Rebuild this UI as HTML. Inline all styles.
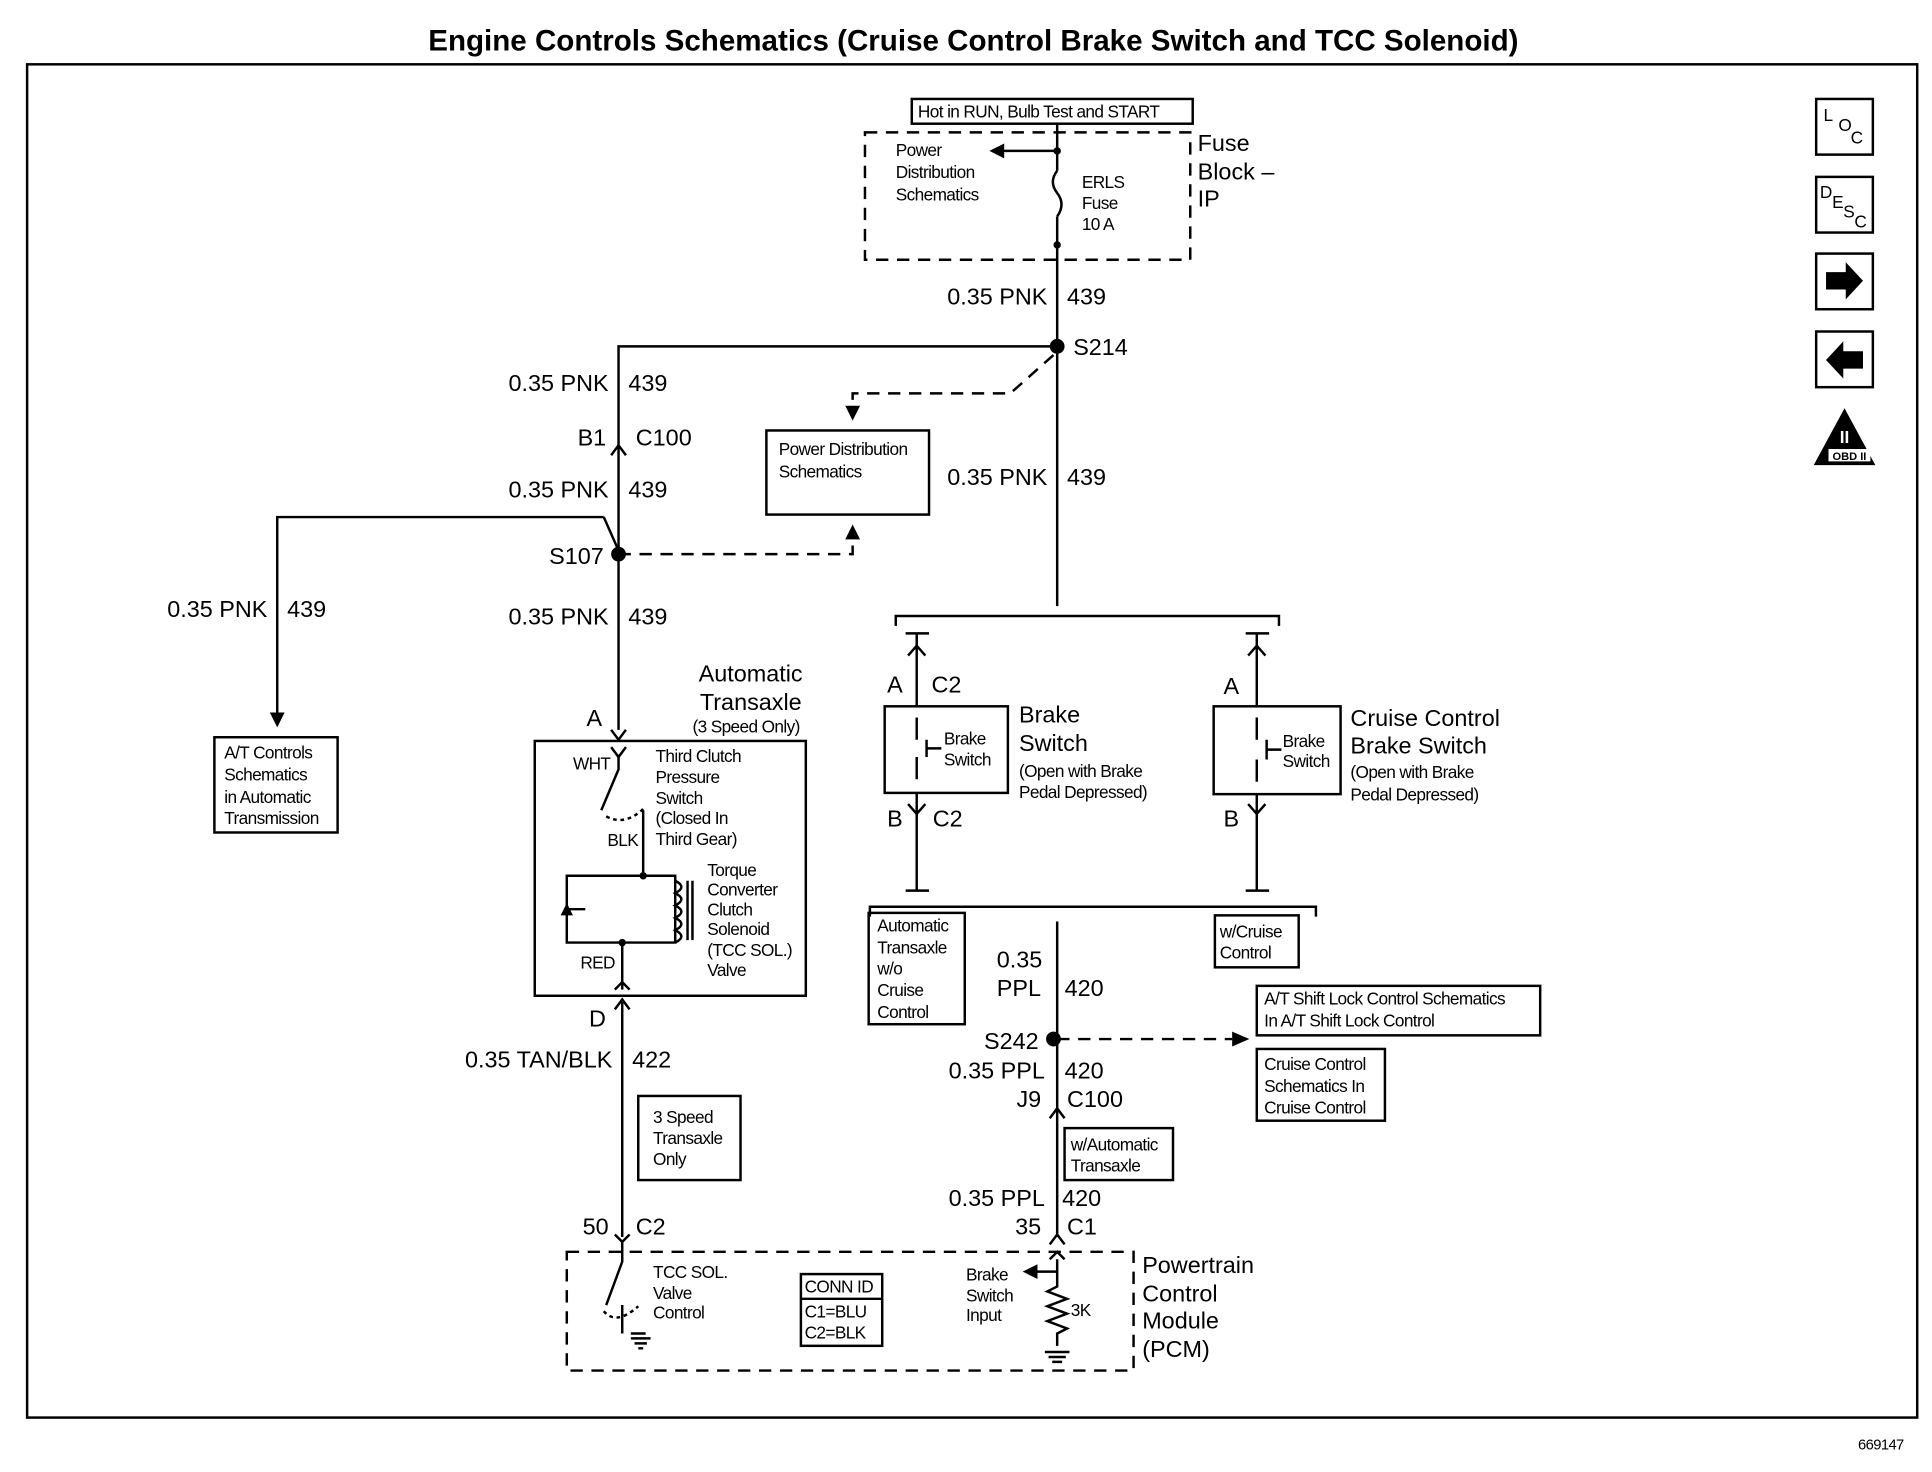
<!DOCTYPE html>
<html><head><meta charset="utf-8"><style>
html,body{margin:0;padding:0;background:#fff;}
svg{display:block;}
text{font-family:"Liberation Sans",Arial,sans-serif;fill:#000;}
.s{font-size:14px;letter-spacing:-0.5px}
.m{font-size:19px}
.l{font-size:19px}
</style></head><body>
<svg width="1932" height="1472" viewBox="0 0 1568 1190" preserveAspectRatio="none" xmlns="http://www.w3.org/2000/svg">
<rect width="1568" height="1190" fill="#fff"/>
<g stroke="#000" stroke-width="2" fill="none">
<rect x="22" y="52" width="1534" height="1094"/>
<rect x="1474" y="80" width="46" height="45"/>
<rect x="1474" y="143" width="46" height="45"/>
<rect x="1474" y="205" width="46" height="45"/>
<rect x="1474" y="268" width="46" height="45"/>
<rect x="740" y="80" width="228" height="20"/>
<rect x="702" y="107" width="264" height="103" stroke-dasharray="10,7"/>
<path d="M858 100 V138 M858 175 V490"/>
<path d="M858 138 q-7 9 0 18 q7 9 0 19" />
<path d="M858 122 H812"/>
<path d="M858 280 H502 V590"/>
<path d="M855 287 L820 318 H692 V330" stroke-dasharray="10,7"/>
<rect x="622" y="348" width="132" height="68"/>
<path d="M502 448 H692 V432" stroke-dasharray="10,7"/>
<path d="M490 418 H225 V578"/>
<path d="M490 418 L502 445"/>
<rect x="174" y="596" width="100" height="77"/>
<path d="M496 368 L502 360 L508 368"/>
<rect x="434" y="599" width="220" height="206"/>
<path d="M496 590 L502 598 L508 590" />
<path d="M496 604 L502 612 L508 604"/>
<path d="M502 612 V622 L488 655"/>
<path d="M522 655 V708 M460 708 H548 V762 H460 Z"/>
<path d="M460 735 H475"/>
<path d="M548 712 q10 5 0 10 q10 5 0 10 q10 5 0 10 q10 5 0 10 q10 5 0 10"/>
<path d="M558 712 V760 M562 712 V760"/>
<path d="M505 762 V800"/>
<path d="M499 800 L505 794 L511 800"/>
<path d="M505 810 V1000 M499 816 L505 808 L511 816"/>
<path d="M492 660 q15 8 30 -6" stroke-dasharray="3,3"/>
<rect x="518" y="886" width="83" height="68"/>
<rect x="460" y="1012" width="460" height="96" stroke-dasharray="10,7"/>
<path d="M499 998 L505 1004 L511 998 M505 1004 V1020 L492 1055"/>
<path d="M505 1055 V1078 M512 1078 H524"/>
<path d="M490 1060 q10 12 28 -4" stroke-dasharray="3,3"/>
<rect x="650" y="1030" width="66" height="58"/>
<path d="M650 1050 H716"/>
<path d="M727 506 V498 H1038 V506"/>
<path d="M744 512 V571 M744 641 V720 M735 720 H754 M735 512 H754"/>
<path d="M737 530 L744 522 L751 530"/>
<path d="M737 650 L744 658 L751 650"/>
<rect x="718" y="571" width="100" height="70"/>
<path d="M744 580 V598 M744 612 V630 M752 598 V612 M752 605 H764"/>
<path d="M1020 512 V571 M1020 642 V720 M1011 720 H1030 M1011 512 H1030"/>
<path d="M1013 530 L1020 522 L1027 530"/>
<path d="M1013 650 L1020 658 L1027 650"/>
<rect x="985" y="571" width="103" height="71"/>
<path d="M1020 580 V598 M1020 614 V632 M1028 598 V614 M1028 606 H1040"/>
<path d="M706 741 V733 H1068 V741"/>
<path d="M858 745 V1000"/>
<rect x="705" y="738" width="78" height="90"/>
<rect x="986" y="740" width="68" height="42"/>
<path d="M858 840 H1000" stroke-dasharray="10,7"/>
<rect x="1020" y="797" width="230" height="40"/>
<rect x="1020" y="848" width="104" height="58"/>
<path d="M852 904 L858 896 L864 904"/>
<rect x="864" y="912" width="88" height="42"/>
<path d="M852 1006 L858 998 L864 1006 M852 1018 L858 1012 L864 1018"/>
<path d="M858 1018 V1040 l-8 4 l16 6 l-16 6 l16 6 l-16 6 l16 6 l-8 4 V1088"/>
<path d="M858 1028 H840"/>
<path d="M848 1093 H868 M851 1097 H865 M854 1101 H862"/>
<path d="M512 1082 H528 M515 1086 H525 M518 1090 H522"/>
</g>
<g fill="#000">
<circle cx="858" cy="280" r="6"/>
<circle cx="502" cy="448" r="6"/>
<circle cx="855" cy="840" r="6"/>
<circle cx="858" cy="122" r="3"/><circle cx="858" cy="198" r="3"/>
<circle cx="522" cy="708" r="3"/><circle cx="505" cy="762" r="3"/>
<path d="M803 122 L815 116 L815 128 Z"/>
<path d="M686 328 L698 328 L692 340 Z"/>
<path d="M686 436 L698 436 L692 424 Z"/>
<path d="M219 576 L231 576 L225 588 Z"/>
<path d="M1000 834 L1000 846 L1014 840 Z"/>
<path d="M830 1028 L842 1022 L842 1034 Z"/>
<path d="M455 740 L465 740 L460 730 Z"/>
<path d="M1482 220 H1498 V212 L1512 227 L1498 242 V234 H1482 Z"/>
<path d="M1512 284 H1496 V276 L1482 291 L1496 306 V298 H1512 Z"/>
<path d="M1497 330 L1522 376 L1472 376 Z"/>
</g>
<rect x="1484" y="363" width="34" height="10" fill="#fff"/>
<text x="790" y="41" text-anchor="middle" style="font-size:24px;font-weight:bold">Engine Controls Schematics (Cruise Control Brake Switch and TCC Solenoid)</text>
<text x="1545" y="1172" class="s" text-anchor="end" style="font-size:12px">669147</text>
<text x="1480" y="98" class="s">L</text><text x="1492" y="106" class="s">O</text><text x="1502" y="116" class="s">C</text>
<text x="1477" y="160" class="s">D</text><text x="1487" y="168" class="s">E</text><text x="1496" y="176" class="s">S</text><text x="1505" y="184" class="s">C</text>
<text x="1497" y="358" text-anchor="middle" style="font-size:14px;font-weight:bold;fill:#fff">II</text>
<text x="1501" y="372" text-anchor="middle" style="font-size:9px;font-weight:bold">OBD II</text>
<text x="745" y="95" class="s">Hot in RUN, Bulb Test and START</text>
<text x="727" y="126" class="s">Power</text><text x="727" y="144" class="s">Distribution</text><text x="727" y="162" class="s">Schematics</text>
<text x="878" y="152" class="s">ERLS</text><text x="878" y="169" class="s">Fuse</text><text x="878" y="186" class="s">10 A</text>
<text x="972" y="122" class="l">Fuse</text><text x="972" y="145" class="l">Block –</text><text x="972" y="167" class="l">IP</text>
<text x="850" y="246" class="m" text-anchor="end">0.35 PNK</text><text x="866" y="246" class="m">439</text>
<text x="871" y="287" class="m">S214</text>
<text x="494" y="316" class="m" text-anchor="end">0.35 PNK</text><text x="510" y="316" class="m">439</text>
<text x="492" y="360" class="m" text-anchor="end">B1</text><text x="516" y="360" class="m">C100</text>
<text x="494" y="402" class="m" text-anchor="end">0.35 PNK</text><text x="510" y="402" class="m">439</text>
<text x="490" y="456" class="m" text-anchor="end">S107</text>
<text x="217" y="499" class="m" text-anchor="end">0.35 PNK</text><text x="233" y="499" class="m">439</text>
<text x="494" y="505" class="m" text-anchor="end">0.35 PNK</text><text x="510" y="505" class="m">439</text>
<text x="632" y="368" class="s">Power Distribution</text><text x="632" y="386" class="s">Schematics</text>
<text x="850" y="392" class="m" text-anchor="end">0.35 PNK</text><text x="866" y="392" class="m">439</text>
<text x="182" y="613" class="s">A/T Controls</text><text x="182" y="631" class="s">Schematics</text><text x="182" y="649" class="s">in Automatic</text><text x="182" y="666" class="s">Transmission</text>
<text x="567" y="551" class="l">Automatic</text><text x="568" y="574" class="l">Transaxle</text><text x="562" y="592" class="s">(3 Speed Only)</text>
<text x="476" y="587" class="m">A</text>
<text x="465" y="622" class="s">WHT</text>
<text x="532" y="616" class="s">Third Clutch</text><text x="532" y="633" class="s">Pressure</text><text x="532" y="650" class="s">Switch</text><text x="532" y="666" class="s">(Closed In</text><text x="532" y="683" class="s">Third Gear)</text>
<text x="493" y="684" class="s">BLK</text>
<text x="574" y="708" class="s">Torque</text><text x="574" y="724" class="s">Converter</text><text x="574" y="740" class="s">Clutch</text><text x="574" y="756" class="s">Solenoid</text><text x="574" y="773" class="s">(TCC SOL.)</text><text x="574" y="789" class="s">Valve</text>
<text x="471" y="783" class="s">RED</text>
<text x="478" y="830" class="m">D</text>
<text x="497" y="863" class="m" text-anchor="end">0.35 TAN/BLK</text><text x="513" y="863" class="m">422</text>
<text x="530" y="908" class="s">3 Speed</text><text x="530" y="925" class="s">Transaxle</text><text x="530" y="942" class="s">Only</text>
<text x="494" y="998" class="m" text-anchor="end">50</text><text x="516" y="998" class="m">C2</text>
<text x="530" y="1033" class="s">TCC SOL.</text><text x="530" y="1050" class="s">Valve</text><text x="530" y="1066" class="s">Control</text>
<text x="653" y="1045" class="s">CONN ID</text><text x="653" y="1065" class="s">C1=BLU</text><text x="653" y="1082" class="s">C2=BLK</text>
<text x="784" y="1035" class="s">Brake</text><text x="784" y="1052" class="s">Switch</text><text x="784" y="1068" class="s">Input</text>
<text x="869" y="1064" class="s">3K</text>
<text x="927" y="1029" class="l">Powertrain</text><text x="927" y="1052" class="l">Control</text><text x="927" y="1074" class="l">Module</text><text x="927" y="1097" class="l">(PCM)</text>
<text x="720" y="560" class="m">A</text><text x="756" y="560" class="m">C2</text>
<text x="720" y="668" class="m">B</text><text x="757" y="668" class="m">C2</text>
<text x="766" y="602" class="s">Brake</text><text x="766" y="619" class="s">Switch</text>
<text x="827" y="584" class="l">Brake</text><text x="827" y="607" class="l">Switch</text>
<text x="827" y="628" class="s">(Open with Brake</text><text x="827" y="645" class="s">Pedal Depressed)</text>
<text x="993" y="561" class="m">A</text><text x="993" y="668" class="m">B</text>
<text x="1041" y="604" class="s">Brake</text><text x="1041" y="620" class="s">Switch</text>
<text x="1096" y="587" class="l">Cruise Control</text><text x="1096" y="609" class="l">Brake Switch</text>
<text x="1096" y="629" class="s">(Open with Brake</text><text x="1096" y="647" class="s">Pedal Depressed)</text>
<text x="712" y="753" class="s">Automatic</text><text x="712" y="771" class="s">Transaxle</text><text x="712" y="788" class="s">w/o</text><text x="712" y="805" class="s">Cruise</text><text x="712" y="823" class="s">Control</text>
<text x="990" y="758" class="s">w/Cruise</text><text x="990" y="775" class="s">Control</text>
<text x="809" y="782" class="m">0.35</text><text x="809" y="805" class="m">PPL</text><text x="864" y="805" class="m">420</text>
<text x="843" y="848" class="m" text-anchor="end">S242</text>
<text x="1026" y="812" class="s">A/T Shift Lock Control Schematics</text><text x="1026" y="830" class="s">In A/T Shift Lock Control</text>
<text x="1026" y="865" class="s">Cruise Control</text><text x="1026" y="883" class="s">Schematics In</text><text x="1026" y="900" class="s">Cruise Control</text>
<text x="848" y="872" class="m" text-anchor="end">0.35 PPL</text><text x="864" y="872" class="m">420</text>
<text x="845" y="895" class="m" text-anchor="end">J9</text><text x="866" y="895" class="m">C100</text>
<text x="869" y="930" class="s">w/Automatic</text><text x="869" y="947" class="s">Transaxle</text>
<text x="848" y="975" class="m" text-anchor="end">0.35 PPL</text><text x="862" y="975" class="m">420</text>
<text x="845" y="998" class="m" text-anchor="end">35</text><text x="866" y="998" class="m">C1</text>
</svg>
</body></html>
